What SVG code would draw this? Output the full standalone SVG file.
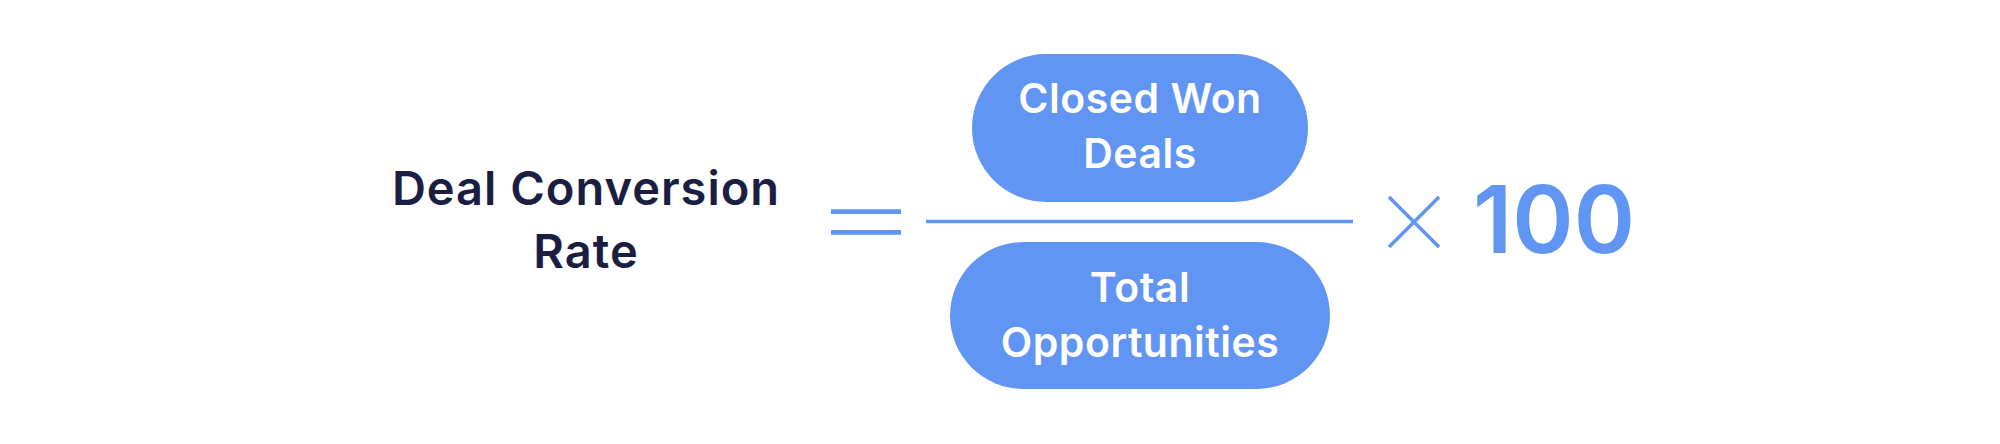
<svg xmlns="http://www.w3.org/2000/svg" width="2000" height="444" viewBox="0 0 2000 444">
<style>
.pill{fill:#6195f3}
.pt{font-family:"Inter","Liberation Sans",sans-serif;font-weight:600;font-size:41px;fill:#ffffff;text-anchor:middle;letter-spacing:0.5px}
.lt{font-family:"Inter","Liberation Sans",sans-serif;font-weight:600;font-size:47px;fill:#1b1e42;text-anchor:middle;letter-spacing:1px}
.op{stroke:#6195f3;fill:none}
</style>
<rect width="2000" height="444" fill="#ffffff"/>
<g id="label">
<text class="lt" x="586" y="205">Deal Conversion</text>
<text class="lt" x="586" y="268">Rate</text>
</g>
<g id="connectors">
<line class="op" x1="831" y1="211.7" x2="901" y2="211.7" stroke-width="4.7"/>
<line class="op" x1="831" y1="232.3" x2="901" y2="232.3" stroke-width="4.7"/>
<line class="op" x1="926" y1="221.6" x2="1353" y2="221.6" stroke-width="3.5"/>
<line class="op" x1="1389" y1="197" x2="1439" y2="247" stroke-width="3.5"/>
<line class="op" x1="1439" y1="197" x2="1389" y2="247" stroke-width="3.5"/>
</g>
<g id="numerator">
<rect class="pill" x="972" y="54" width="336" height="148" rx="74"/>
<text class="pt" x="1140" y="113">Closed Won</text>
<text class="pt" x="1140" y="168">Deals</text>
</g>
<g id="denominator">
<rect class="pill" x="950" y="242" width="380" height="147" rx="73.5"/>
<text class="pt" x="1140" y="302">Total</text>
<text class="pt" x="1140" y="357">Opportunities</text>
</g>
<g id="multiplier">
<text x="1554" y="253" font-family="Inter,'Liberation Sans',sans-serif" font-weight="600" font-size="93" fill="#6195f3" text-anchor="middle">100</text>
</g>
</svg>
